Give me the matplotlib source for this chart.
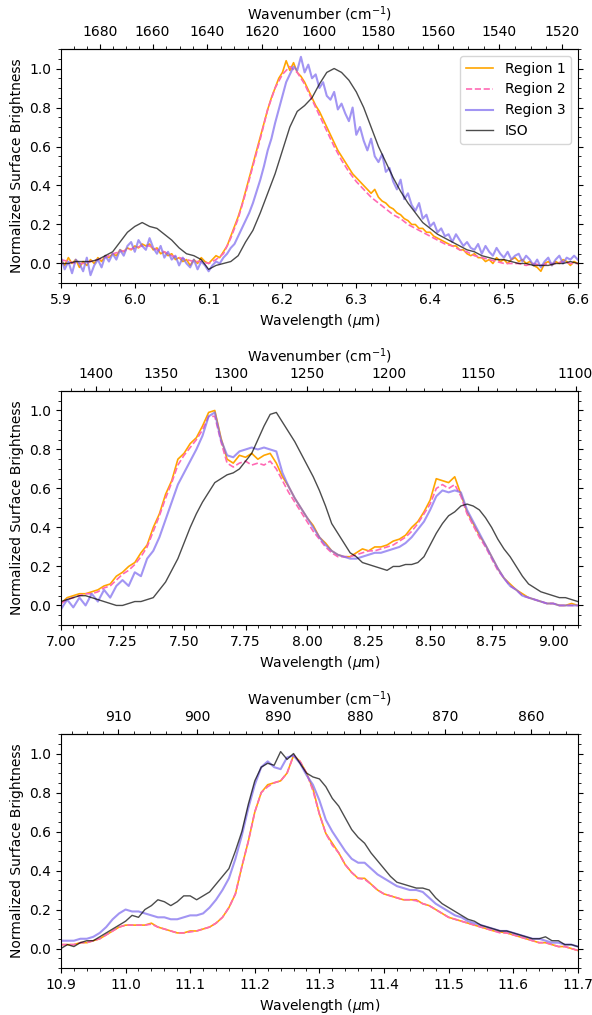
import matplotlib.pyplot as plt
import numpy as np
from matplotlib.ticker import AutoMinorLocator, MultipleLocator

# ---- panel 1 : 6.2 um band (5.9 - 6.6 um) ----
# region 1 / region 3 sampled every 0.005 um, region 2 / ISO every 0.01 um
p1_region1 = [
    0.02, -0.01, 0.03, 0.00, 0.02, -0.02, 0.01, -0.01, 0.02, 0.00,   # 5.900
    0.03, 0.01, 0.04, 0.03, 0.05, 0.04, 0.07, 0.06, 0.08, 0.07,      # 5.950
    0.09, 0.08, 0.10, 0.09, 0.10, 0.07, 0.08, 0.05, 0.06, 0.04,      # 6.000
    0.05, 0.02, 0.03, 0.01, 0.02, -0.01, 0.02, 0.00, 0.03, 0.01,     # 6.050
    0.00, 0.02, 0.04, 0.03, 0.06, 0.09, 0.14, 0.19, 0.24, 0.30,      # 6.100
    0.37, 0.44, 0.51, 0.58, 0.65, 0.72, 0.79, 0.85, 0.90, 0.95,      # 6.150
    0.98, 1.04, 0.99, 1.03, 0.98, 0.96, 0.93, 0.89, 0.85, 0.81,      # 6.200
    0.78, 0.74, 0.70, 0.66, 0.62, 0.58, 0.55, 0.52, 0.49, 0.46,      # 6.250
    0.44, 0.42, 0.40, 0.38, 0.36, 0.38, 0.34, 0.32, 0.31, 0.29,      # 6.300
    0.28, 0.26, 0.25, 0.23, 0.22, 0.20, 0.20, 0.18, 0.18, 0.16,      # 6.350
    0.16, 0.14, 0.13, 0.12, 0.11, 0.10, 0.09, 0.09, 0.07, 0.07,      # 6.400
    0.05, 0.04, 0.05, 0.03, 0.03, 0.01, 0.02, 0.00, 0.03, 0.01,      # 6.450
    0.02, 0.00, 0.02, 0.03, 0.01, 0.02, 0.00, 0.01, -0.01, -0.02,    # 6.500
    -0.04, 0.00, 0.01, -0.01, 0.01, 0.00, 0.02, 0.01, -0.01, 0.01,   # 6.550
    0.00,                                                            # 6.600
]
p1_region2 = [
    0.02, 0.01, 0.00, 0.00, 0.01, 0.02, 0.03, 0.05, 0.06, 0.07,      # 5.90
    0.08, 0.09, 0.09, 0.07, 0.06, 0.04, 0.03, 0.02, 0.01, 0.01,      # 6.00
    0.00, 0.02, 0.05, 0.13, 0.23, 0.36, 0.50, 0.64, 0.79, 0.90,      # 6.10
    0.97, 1.01, 0.98, 0.92, 0.84, 0.76, 0.68, 0.60, 0.53, 0.47,      # 6.20
    0.42, 0.38, 0.34, 0.31, 0.28, 0.25, 0.23, 0.20, 0.18, 0.16,      # 6.30
    0.14, 0.12, 0.10, 0.09, 0.07, 0.06, 0.04, 0.03, 0.02, 0.01,      # 6.40
    0.00, 0.00, 0.00, -0.01, 0.00, -0.01, 0.00, 0.00, 0.01, 0.00,    # 6.50
    0.00,                                                            # 6.60
]
p1_region3 = [
    0.03, -0.03, 0.01, -0.05, 0.02, 0.00, -0.04, 0.03, -0.06, -0.01,  # 5.900
    0.02, -0.02, 0.04, 0.01, 0.05, 0.02, 0.07, 0.04, 0.09, 0.11,      # 5.950
    0.06, 0.12, 0.09, 0.07, 0.13, 0.08, 0.05, 0.09, 0.03, 0.06,       # 6.000
    0.02, 0.04, -0.01, 0.03, 0.00, -0.02, 0.02, -0.03, 0.01, -0.01,   # 6.050
    -0.04, -0.01, 0.01, 0.00, 0.03, 0.05, 0.08, 0.10, 0.14, 0.18,     # 6.100
    0.22, 0.26, 0.31, 0.37, 0.43, 0.50, 0.58, 0.64, 0.72, 0.79,       # 6.150
    0.86, 0.93, 0.97, 1.01, 0.99, 1.06, 0.98, 1.02, 0.95, 0.97,       # 6.200
    0.90, 0.93, 0.86, 0.84, 0.88, 0.79, 0.82, 0.77, 0.73, 0.80,       # 6.250
    0.66, 0.70, 0.63, 0.58, 0.64, 0.55, 0.52, 0.56, 0.47, 0.49,       # 6.300
    0.42, 0.38, 0.43, 0.33, 0.36, 0.30, 0.27, 0.31, 0.23, 0.25,       # 6.350
    0.19, 0.21, 0.16, 0.18, 0.14, 0.15, 0.11, 0.15, 0.12, 0.09,       # 6.400
    0.11, 0.08, 0.07, 0.10, 0.05, 0.09, 0.06, 0.04, 0.08, 0.05,       # 6.450
    0.03, 0.06, 0.02, 0.04, 0.05, 0.01, 0.04, 0.02, -0.01, 0.02,      # 6.500
    -0.02, 0.01, 0.03, -0.01, 0.02, 0.04, 0.00, 0.03, 0.02, 0.04,     # 6.550
    0.02,                                                             # 6.600
]
p1_iso = [
    0.00, 0.00, 0.01, 0.01, 0.01, 0.02, 0.04, 0.06, 0.11, 0.16,      # 5.90
    0.19, 0.21, 0.19, 0.18, 0.15, 0.12, 0.08, 0.05, 0.04, 0.02,      # 6.00
    -0.03, -0.01, 0.00, 0.01, 0.04, 0.11, 0.17, 0.26, 0.36, 0.46,    # 6.10
    0.58, 0.70, 0.78, 0.81, 0.85, 0.92, 0.98, 1.00, 0.98, 0.94,      # 6.20
    0.88, 0.80, 0.70, 0.60, 0.52, 0.44, 0.37, 0.31, 0.26, 0.21,      # 6.30
    0.18, 0.15, 0.13, 0.11, 0.09, 0.07, 0.06, 0.04, 0.03, 0.02,      # 6.40
    0.02, 0.01, 0.00, 0.00, -0.01, -0.01, -0.01, 0.00, 0.00, 0.01,   # 6.50
    0.00,                                                            # 6.60
]

# ---- panel 2 : 7.7 / 8.6 um bands (7.0 - 9.1 um), every 0.025 um ----
p2_region1 = [
    0.01, 0.04, 0.05, 0.06, 0.06, 0.07, 0.08, 0.10, 0.11, 0.15,   # 7.000
    0.17, 0.20, 0.22, 0.27, 0.31, 0.40, 0.47, 0.57, 0.64, 0.75,   # 7.250
    0.78, 0.83, 0.86, 0.92, 0.99, 1.00, 0.86, 0.75, 0.73, 0.77,   # 7.500
    0.76, 0.78, 0.75, 0.77, 0.78, 0.73, 0.66, 0.61, 0.55, 0.50,   # 7.750
    0.45, 0.41, 0.35, 0.32, 0.28, 0.26, 0.25, 0.25, 0.27, 0.29,   # 8.000
    0.28, 0.30, 0.30, 0.31, 0.33, 0.34, 0.36, 0.40, 0.43, 0.48,   # 8.250
    0.54, 0.65, 0.64, 0.63, 0.66, 0.57, 0.48, 0.42, 0.36, 0.31,   # 8.500
    0.25, 0.19, 0.14, 0.11, 0.08, 0.06, 0.04, 0.03, 0.02, 0.01,   # 8.750
    0.01, 0.00, 0.00, 0.01, 0.00,                                 # 9.000
]
p2_region2 = [
    0.01, 0.03, 0.04, 0.05, 0.06, 0.06, 0.07, 0.09, 0.10, 0.13,   # 7.000
    0.16, 0.18, 0.21, 0.25, 0.30, 0.38, 0.46, 0.55, 0.63, 0.72,   # 7.250
    0.77, 0.81, 0.85, 0.90, 0.97, 0.97, 0.84, 0.73, 0.71, 0.73,   # 7.500
    0.74, 0.72, 0.73, 0.72, 0.74, 0.70, 0.64, 0.58, 0.53, 0.48,   # 7.750
    0.43, 0.38, 0.34, 0.30, 0.27, 0.25, 0.25, 0.25, 0.26, 0.27,   # 8.000
    0.28, 0.28, 0.29, 0.30, 0.31, 0.33, 0.35, 0.38, 0.42, 0.47,   # 8.250
    0.52, 0.60, 0.62, 0.60, 0.62, 0.56, 0.47, 0.41, 0.35, 0.30,   # 8.500
    0.24, 0.18, 0.14, 0.10, 0.08, 0.05, 0.04, 0.03, 0.02, 0.01,   # 8.750
    0.01, 0.00, 0.00, 0.00, 0.00,                                 # 9.000
]
p2_region3 = [
    -0.02, 0.03, -0.01, 0.04, 0.00, 0.06, 0.02, 0.08, 0.04, 0.10,  # 7.000
    0.13, 0.10, 0.17, 0.15, 0.24, 0.28, 0.35, 0.44, 0.53, 0.62,    # 7.250
    0.68, 0.74, 0.80, 0.87, 0.97, 0.99, 0.85, 0.77, 0.76, 0.79,    # 7.500
    0.80, 0.81, 0.80, 0.81, 0.80, 0.79, 0.68, 0.61, 0.55, 0.50,    # 7.750
    0.45, 0.40, 0.35, 0.31, 0.28, 0.26, 0.25, 0.24, 0.24, 0.25,    # 8.000
    0.26, 0.27, 0.27, 0.28, 0.29, 0.30, 0.32, 0.35, 0.39, 0.43,    # 8.250
    0.49, 0.56, 0.59, 0.58, 0.59, 0.58, 0.49, 0.43, 0.37, 0.31,    # 8.500
    0.25, 0.19, 0.14, 0.10, 0.08, 0.05, 0.04, 0.03, 0.02, 0.01,    # 8.750
    0.01, 0.00, 0.00, 0.00, 0.00,                                  # 9.000
]
p2_iso = [
    0.02, 0.03, 0.04, 0.05, 0.05, 0.04, 0.03, 0.02, 0.01, 0.00,   # 7.000
    0.00, 0.01, 0.02, 0.02, 0.03, 0.04, 0.08, 0.12, 0.18, 0.24,   # 7.250
    0.32, 0.40, 0.47, 0.53, 0.58, 0.63, 0.65, 0.67, 0.68, 0.70,   # 7.500
    0.74, 0.78, 0.85, 0.92, 0.98, 0.99, 0.94, 0.89, 0.84, 0.78,   # 7.750
    0.72, 0.66, 0.59, 0.51, 0.42, 0.37, 0.32, 0.27, 0.25, 0.22,   # 8.000
    0.21, 0.20, 0.19, 0.18, 0.20, 0.20, 0.21, 0.21, 0.22, 0.25,   # 8.250
    0.31, 0.37, 0.42, 0.46, 0.48, 0.51, 0.52, 0.51, 0.49, 0.45,   # 8.500
    0.40, 0.34, 0.29, 0.25, 0.20, 0.15, 0.11, 0.09, 0.07, 0.06,   # 8.750
    0.05, 0.04, 0.04, 0.03, 0.02,                                 # 9.000
]

# ---- panel 3 : 11.2 um band (10.9 - 11.7 um), every 0.01 um ----
p3_region1 = [
    0.02, 0.02, 0.02, 0.03, 0.03, 0.04, 0.05, 0.07, 0.09, 0.11,   # 10.90
    0.12, 0.12, 0.12, 0.12, 0.13, 0.11, 0.10, 0.09, 0.08, 0.08,   # 11.00
    0.09, 0.09, 0.10, 0.11, 0.13, 0.16, 0.21, 0.28, 0.42, 0.55,   # 11.10
    0.70, 0.80, 0.84, 0.85, 0.86, 0.90, 0.99, 0.96, 0.90, 0.82,   # 11.20
    0.69, 0.59, 0.54, 0.49, 0.43, 0.39, 0.36, 0.36, 0.33, 0.30,   # 11.30
    0.28, 0.27, 0.26, 0.25, 0.25, 0.25, 0.23, 0.22, 0.20, 0.18,   # 11.40
    0.16, 0.15, 0.14, 0.13, 0.12, 0.11, 0.10, 0.09, 0.085, 0.08,  # 11.50
    0.07, 0.06, 0.05, 0.04, 0.03, 0.03, 0.02, 0.01, 0.01, 0.00,   # 11.60
    -0.01,                                                        # 11.70
]
p3_region2 = [
    0.02, 0.02, 0.02, 0.03, 0.03, 0.04, 0.05, 0.07, 0.09, 0.11,   # 10.90
    0.12, 0.12, 0.12, 0.12, 0.125, 0.11, 0.10, 0.09, 0.08, 0.08,  # 11.00
    0.085, 0.09, 0.10, 0.11, 0.13, 0.16, 0.21, 0.28, 0.42, 0.55,  # 11.10
    0.70, 0.80, 0.83, 0.85, 0.86, 0.90, 0.99, 0.96, 0.90, 0.81,   # 11.20
    0.69, 0.59, 0.53, 0.49, 0.43, 0.39, 0.36, 0.355, 0.33, 0.30,  # 11.30
    0.28, 0.27, 0.26, 0.25, 0.25, 0.245, 0.23, 0.22, 0.20, 0.18,  # 11.40
    0.16, 0.15, 0.14, 0.13, 0.12, 0.11, 0.10, 0.09, 0.08, 0.08,   # 11.50
    0.07, 0.06, 0.05, 0.04, 0.03, 0.03, 0.02, 0.01, 0.01, 0.00,   # 11.60
    -0.01,                                                        # 11.70
]
p3_region3 = [
    0.04, 0.04, 0.04, 0.05, 0.05, 0.06, 0.08, 0.11, 0.15, 0.18,   # 10.90
    0.20, 0.19, 0.19, 0.18, 0.17, 0.16, 0.16, 0.15, 0.15, 0.16,   # 11.00
    0.17, 0.17, 0.18, 0.21, 0.25, 0.30, 0.36, 0.46, 0.58, 0.72,   # 11.10
    0.84, 0.93, 0.96, 0.93, 0.92, 0.98, 0.99, 0.95, 0.89, 0.84,   # 11.20
    0.76, 0.66, 0.60, 0.55, 0.50, 0.46, 0.44, 0.44, 0.41, 0.38,   # 11.30
    0.36, 0.34, 0.32, 0.31, 0.30, 0.30, 0.29, 0.26, 0.23, 0.21,   # 11.40
    0.19, 0.17, 0.16, 0.14, 0.13, 0.12, 0.11, 0.10, 0.09, 0.09,   # 11.50
    0.08, 0.07, 0.06, 0.05, 0.05, 0.04, 0.03, 0.03, 0.02, 0.02,   # 11.60
    0.01,                                                         # 11.70
]
p3_iso = [
    0.00, 0.02, 0.01, 0.03, 0.04, 0.04, 0.06, 0.08, 0.10, 0.12,   # 10.90
    0.14, 0.17, 0.16, 0.20, 0.22, 0.25, 0.24, 0.22, 0.24, 0.27,   # 11.00
    0.27, 0.25, 0.27, 0.29, 0.33, 0.37, 0.41, 0.50, 0.60, 0.74,   # 11.10
    0.86, 0.93, 0.95, 0.94, 1.01, 0.97, 1.00, 0.95, 0.90, 0.88,   # 11.20
    0.87, 0.83, 0.77, 0.73, 0.67, 0.61, 0.57, 0.54, 0.49, 0.45,   # 11.30
    0.41, 0.37, 0.34, 0.33, 0.32, 0.31, 0.31, 0.30, 0.26, 0.23,   # 11.40
    0.21, 0.19, 0.17, 0.15, 0.14, 0.12, 0.11, 0.10, 0.09, 0.09,   # 11.50
    0.08, 0.07, 0.06, 0.05, 0.05, 0.06, 0.04, 0.04, 0.02, 0.02,   # 11.60
    0.01,                                                         # 11.70
]

labels = ['Region 1', 'Region 2', 'Region 3', 'ISO']

panels = [
    dict(xlim=(5.9, 6.6), xmajor=0.1, top=[1680, 1660, 1640, 1620, 1600, 1580, 1560, 1540, 1520],
         data=[p1_region1, p1_region2, p1_region3, p1_iso]),
    dict(xlim=(7.0, 9.1), xmajor=0.25, top=[1400, 1350, 1300, 1250, 1200, 1150, 1100],
         data=[p2_region1, p2_region2, p2_region3, p2_iso]),
    dict(xlim=(10.9, 11.7), xmajor=0.1, top=[910, 900, 890, 880, 870, 860],
         data=[p3_region1, p3_region2, p3_region3, p3_iso]),
]

styles = [
    dict(color='orange', lw=1.2, ls='-'),
    dict(color='hotpink', lw=1.2, ls='--'),
    dict(color='mediumslateblue', lw=1.5, ls='-', alpha=0.7),
    dict(color='k', lw=1.0, ls='-', alpha=0.7),
]

fig = plt.figure(figsize=(5.92, 10.15), dpi=100)
bottoms = [0.7212, 0.3843, 0.0463]

def wn(x):
    return 1e4 / x

for p, b in zip(panels, bottoms):
    ax = fig.add_axes([0.103, b, 0.873, 0.2305])
    for y, st, lab in zip(p['data'], styles, labels):
        x = np.linspace(p['xlim'][0], p['xlim'][1], len(y))
        ax.plot(x, y, label=lab, **st)
    ax.set_xlim(*p['xlim'])
    ax.set_ylim(-0.1, 1.1)
    ax.xaxis.set_major_locator(MultipleLocator(p['xmajor']))
    ax.xaxis.set_minor_locator(AutoMinorLocator())
    ax.yaxis.set_major_locator(MultipleLocator(0.2))
    ax.yaxis.set_minor_locator(AutoMinorLocator())
    ax.tick_params(which='both', right=True)
    ax.set_xlabel(r'Wavelength ($\mu$m)')
    ax.set_ylabel('Normalized Surface Brightness')
    sec = ax.secondary_xaxis('top', functions=(wn, wn))
    sec.set_xticks(p['top'])
    sec.xaxis.set_minor_locator(AutoMinorLocator())
    sec.set_xlabel('Wavenumber (cm$^{-1}$)')
    if b == bottoms[0]:
        ax.legend(loc='upper right')

fig.savefig('out.png', dpi=100)
